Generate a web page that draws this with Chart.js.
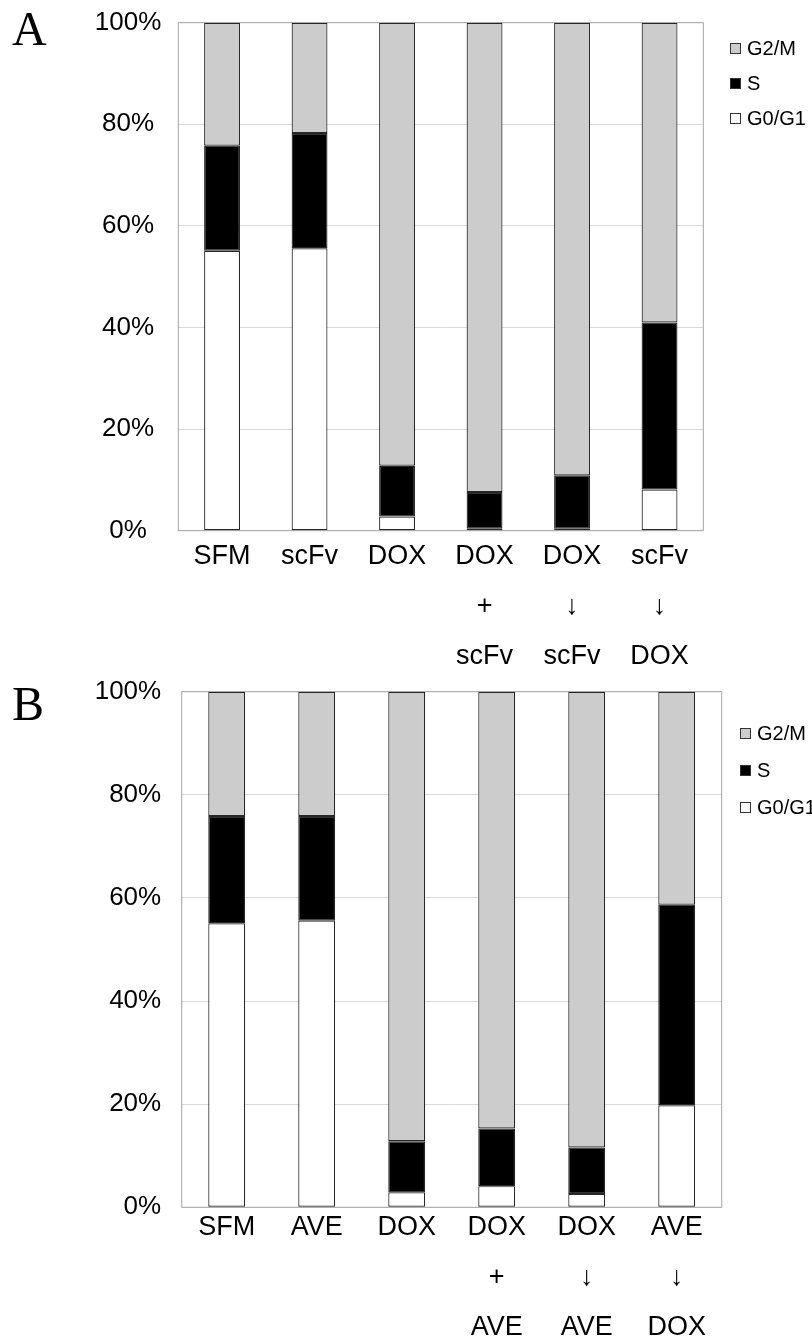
<!DOCTYPE html>
<html>
<head>
<meta charset="utf-8">
<script src="https://cdn.jsdelivr.net/npm/chart.js@4.4.1/dist/chart.umd.min.js"></script>
<style>
  html, body { margin: 0; padding: 0; background: #fff; }
  body { width: 812px; height: 1343px; position: relative; overflow: hidden; }
  canvas { position: absolute; left: 0; }
  #chartA { top: 0; }
  #chartB { top: 660px; }
</style>
</head>
<body>
<canvas id="chartA" width="812" height="680"></canvas>
<canvas id="chartB" width="812" height="683"></canvas>
<script>
// categories (multi-line x labels)
const labelsA = [['SFM'], ['scFv'], ['DOX'], ['DOX', '+', 'scFv'], ['DOX', '\u2193', 'scFv'], ['scFv', '\u2193', 'DOX']];
const labelsB = [['SFM'], ['AVE'], ['DOX'], ['DOX', '+', 'AVE'], ['DOX', '\u2193', 'AVE'], ['AVE', '\u2193', 'DOX']];

// panel A, % of cells in each phase
const g0g1A = [55.1, 55.6, 2.8, 0.4, 0.4, 8.1];
const sA    = [20.7, 22.7, 10.0, 7.2, 10.5, 32.9];
const g2mA  = [24.2, 21.7, 87.2, 92.4, 89.1, 59.0];

// panel B
const g0g1B = [55.1, 55.6, 2.9, 4.1, 2.6, 19.8];
const sB    = [20.8, 20.3, 9.9, 11.2, 9.0, 38.9];
const g2mB  = [24.1, 24.1, 87.2, 84.7, 88.4, 41.3];

const yTicks = [0, 20, 40, 60, 80, 100];
const phaseNames = ['G0/G1', 'S', 'G2/M'];
const phaseColors = ['#ffffff', '#000000', '#cccccc'];

const sans = "'Liberation Sans', Arial, sans-serif";

// frame around the plot, panel letter and the little legend on the right
const panelPlugin = {
    id: 'panel',
    beforeDatasetsDraw(chart) {
        const a = chart.chartArea;
        const ctx = chart.ctx;
        ctx.save();
        ctx.strokeStyle = '#a6a6a6';
        ctx.lineWidth = 1;
        ctx.strokeRect(a.left, a.top, a.right - a.left, a.bottom - a.top);
        ctx.restore();
    },
    afterDraw(chart, args, opts) {
        const ctx = chart.ctx;
        ctx.save();
        ctx.fillStyle = '#000';
        ctx.font = "48px 'Liberation Serif', 'Times New Roman', serif";
        ctx.textBaseline = 'alphabetic';
        ctx.textAlign = 'left';
        ctx.fillText(opts.letter, 12, opts.letterY);

        const sets = chart.data.datasets.slice().reverse();
        ctx.font = '20px ' + sans;
        ctx.textBaseline = 'middle';
        sets.forEach((ds, i) => {
            const y = opts.legendY + i * opts.legendGap;
            ctx.fillStyle = ds.backgroundColor;
            ctx.fillRect(opts.legendX, y - 5, 10, 10);
            ctx.strokeStyle = '#333';
            ctx.lineWidth = 1;
            ctx.strokeRect(opts.legendX + 0.5, y - 4.5, 10, 10);
            ctx.fillStyle = '#000';
            ctx.fillText(ds.label, opts.legendX + 17, y + 1);
        });
        ctx.restore();
    }
};

function makeDatasets(g0, s, g2) {
    return [g0, s, g2].map((vals, i) => ({
        label: phaseNames[i],
        data: vals,
        backgroundColor: phaseColors[i],
        borderColor: '#262626',
        borderWidth: 1.2,
        borderSkipped: false,
        categoryPercentage: 1,
        barPercentage: 0.41
    }));
}

function buildChart(canvas, cfg) {
    return new Chart(canvas.getContext('2d'), {
        type: 'bar',
        data: {
            labels: cfg.labels,
            datasets: makeDatasets(cfg.g0, cfg.s, cfg.g2)
        },
        options: {
            responsive: false,
            animation: false,
            layout: { padding: { left: 0, right: cfg.padRight, top: cfg.padTop, bottom: 0 } },
            plugins: {
                legend: { display: false },
                tooltip: { enabled: false },
                panel: cfg.panel
            },
            scales: {
                x: {
                    stacked: true,
                    grid: { display: false, drawTicks: false },
                    border: { display: false },
                    ticks: {
                        color: '#000',
                        maxRotation: 0,
                        autoSkip: false,
                        padding: cfg.xPad,
                        font: { family: sans, size: 27, lineHeight: '50px' }
                    },
                    afterFit: (scale) => {
                        scale.height = cfg.xHeight;
                        scale.paddingLeft = 0;
                        scale.paddingRight = 0;
                    }
                },
                y: {
                    stacked: true,
                    min: 0,
                    max: 100,
                    afterBuildTicks: (scale) => { scale.ticks = yTicks.map(v => ({ value: v })); },
                    grid: { color: '#d9d9d9', lineWidth: 1, drawTicks: false },
                    border: { display: false },
                    ticks: {
                        color: '#000',
                        crossAlign: cfg.yAlign,
                        padding: cfg.yPad,
                        font: { family: sans, size: 26 },
                        callback: (v) => v + '%'
                    },
                    afterFit: (scale) => {
                        scale.width = cfg.yWidth;
                        scale.paddingTop = 0;
                        scale.paddingBottom = 0;
                    }
                }
            }
        },
        plugins: [panelPlugin]
    });
}

document.addEventListener('DOMContentLoaded', function() {
    buildChart(document.getElementById('chartA'), {
        labels: labelsA, g0: g0g1A, s: sA, g2: g2mA,
        padRight: 108.7, padTop: 22.7,
        xHeight: 149.3, xPad: 1,
        yWidth: 178.3, yAlign: 'center', yPad: 17,
        panel: { letter: 'A', letterY: 45, legendX: 730, legendY: 48, legendGap: 35 }
    });

    buildChart(document.getElementById('chartB'), {
        labels: labelsB, g0: g0g1B, s: sB, g2: g2mB,
        padRight: 90.3, padTop: 31.7,
        xHeight: 135.7, xPad: -5,
        yWidth: 181.7, yAlign: 'near', yPad: 20.5,
        panel: { letter: 'B', letterY: 60, legendX: 740, legendY: 73, legendGap: 37 }
    });
});
</script>
</body>
</html>
